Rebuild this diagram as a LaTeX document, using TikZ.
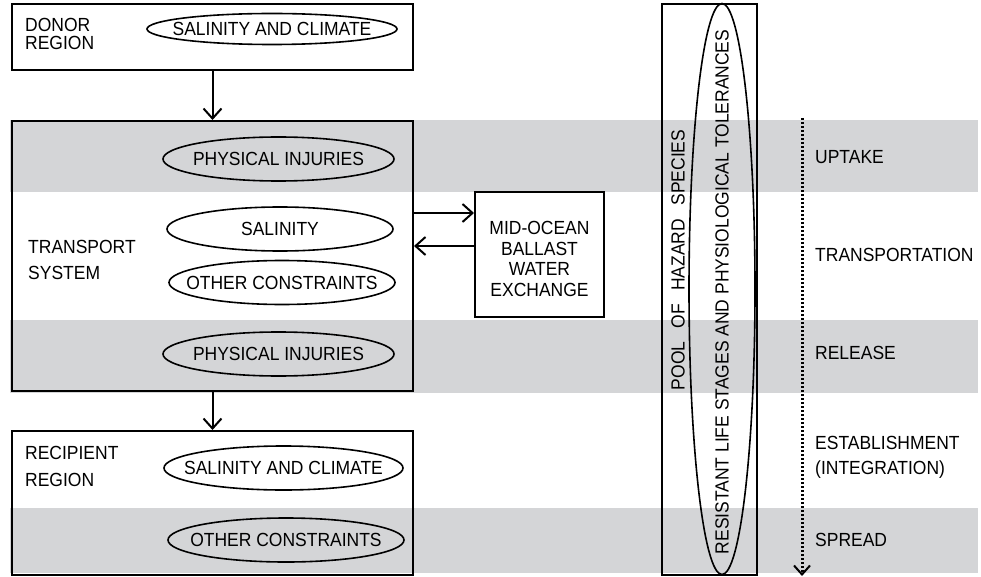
\documentclass[tikz,border=0pt]{standalone}
\usepackage{fontspec}
\setmainfont{Liberation Sans}[FakeStretch=0.92]
\usetikzlibrary{shapes.geometric,arrows.meta}
\definecolor{bandgray}{RGB}{212,213,215}
\newcommand{\inell}[1]{\makebox[0pt]{#1}}

\begin{document}
\begin{tikzpicture}[x=1pt,y=-1pt,
	font=\fontsize{19}{21}\selectfont,
	box/.style={draw,line width=2pt,inner sep=0pt},
	cond/.style={draw,ellipse,line width=1.6pt,inner sep=0pt,minimum height=44pt},
	lbl/.style={anchor=west,align=left,inner sep=0pt},
	arr/.style={line width=2pt,-{Straight Barb[length=10pt,width=18pt]}}]
	\useasboundingbox (0,0) rectangle (981,577);
	\foreach \a/\b in {120/192,320/393,508/573}{
		\fill[bandgray] (10,\a) rectangle (978,\b);
	}
	\node[box,minimum width=401pt,minimum height=66pt] (donor) at (212.5,37) {};
	\node[box,minimum width=401pt,minimum height=270pt] (transport) at (212.5,256) {};
	\node[box,minimum width=401pt,minimum height=144pt] (recipient) at (212.5,503) {};
	\node[box,minimum width=129pt,minimum height=125pt] (exchange) at (539.5,254.5) {};
	\node[box,minimum width=95pt,minimum height=571pt] (pool) at (709.5,289.5) {};
	\node[draw,ellipse,line width=1.6pt,inner sep=0pt,minimum width=66pt,minimum height=571pt] (tolerances) at (722,289) {};
	\node[align=center,yshift=-4.5pt,font=\fontsize{19}{20.6}\selectfont] (exchangename) at (exchange) {MID-OCEAN\\BALLAST\\WATER\\EXCHANGE};
	\node[lbl] (donorname) at (25,34) {DONOR\\[-2.5pt]REGION};
	\node[lbl] (transportname) at (28,260) {TRANSPORT\\[5pt]SYSTEM};
	\node[lbl] (recipientname) at (25,466.5) {RECIPIENT\\[6pt]REGION};
	\node[cond,minimum width=250pt,minimum height=31pt] (donorclimate) at (272,29) {\inell{SALINITY AND CLIMATE}};
	\node[cond,minimum width=231pt] (uptakeinjury) at (278.5,159) {\inell{PHYSICAL INJURIES}};
	\node[cond,minimum width=226pt] (salinity) at (280,229) {\inell{SALINITY}};
	\node[cond,minimum width=226pt] (transportother) at (282,282.5) {\inell{OTHER CONSTRAINTS}};
	\node[cond,minimum width=231pt] (releaseinjury) at (278.5,354) {\inell{PHYSICAL INJURIES}};
	\node[cond,minimum width=239pt] (recipientclimate) at (283.5,468) {\inell{SALINITY AND CLIMATE}};
	\node[cond,minimum width=236pt] (recipientother) at (286,540) {\inell{OTHER CONSTRAINTS}};
	\node[rotate=90] (poolname) at (678,260) {POOL\hspace{.7em}OF\hspace{.7em}HAZARD\hspace{.7em}SPECIES};
	\node[rotate=90] (tolerancename) at (722,292) {RESISTANT LIFE STAGES AND PHYSIOLOGICAL TOLERANCES};
	\foreach \y/\t/\n in {157/UPTAKE/uptake,255/TRANSPORTATION/transportation,353/RELEASE/release,540/SPREAD/spread}{
		\node[lbl] (\n) at (815,\y) {\t};
	}
	\node[lbl] (establishment) at (815,457) {ESTABLISHMENT\\[4pt](INTEGRATION)};
	\draw[arr] (donor) -- (transport);
	\draw[arr] (transport) -- (recipient);
	\draw[arr] ([yshift=43pt]transport.east) -- ([yshift=41.5pt]exchange.west);
	\draw[arr] ([yshift=8.5pt]exchange.west) -- ([yshift=10pt]transport.east);
	\coordinate (flowtop) at (802,118);
	\coordinate (flowend) at (802,576);
	\draw[line width=3pt,dash pattern=on 2.4pt off 1.6pt,-{Straight Barb[length=9pt,width=16pt,line width=2pt]}] (flowtop) -- (flowend);
\end{tikzpicture}
\end{document}
